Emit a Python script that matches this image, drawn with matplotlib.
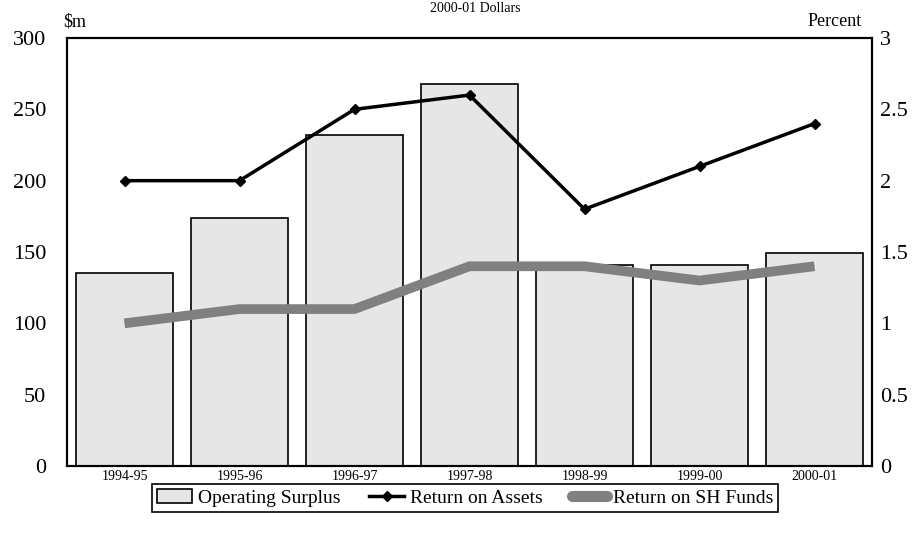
import numpy as np
import matplotlib
matplotlib.use("Agg")
import matplotlib.pyplot as plt
from matplotlib.lines import Line2D
from matplotlib.patches import Patch

# data
years = ['1994-95', '1995-96', '1996-97', '1997-98', '1998-99', '1999-00', '2000-01']
operating_surplus = [135, 174, 232, 268, 141, 141, 149]
return_on_assets = [2.0, 2.0, 2.5, 2.6, 1.8, 2.1, 2.4]
return_on_sh_funds = [1.0, 1.1, 1.1, 1.4, 1.4, 1.3, 1.4]

plt.rcParams['font.family'] = ['Liberation Serif', 'DejaVu Serif']

fig = plt.figure(figsize=(9.22, 5.36), dpi=100)
ax = fig.add_axes([67 / 922, 1 - 466 / 536, 805 / 922, 428 / 536])
ax2 = ax.twinx()

x = np.arange(len(years))
ax.bar(x, operating_surplus, width=0.85, color='#e6e6e6', edgecolor='black', linewidth=1.2, zorder=2)
ax.set_xlim(-0.5, len(years) - 0.5)
ax.set_ylim(0, 300)
ax.set_yticks(np.arange(0, 301, 50))
ax.set_xticks(x)
ax.set_xticklabels(years, fontsize=10)
ax.tick_params(axis='both', length=0)
ax.tick_params(axis='y', labelsize=16, pad=15)
ax.tick_params(axis='x', pad=3)

ax2.plot(x, return_on_sh_funds, color='#808080', linewidth=7, solid_capstyle='butt', zorder=3)
ax2.plot(x, return_on_assets, color='black', linewidth=2.5, marker='D', markersize=5, zorder=4)
ax2.set_ylim(0, 3)
ax2.set_yticks([0, 0.5, 1, 1.5, 2, 2.5, 3])
ax2.set_yticklabels(['0', '0.5', '1', '1.5', '2', '2.5', '3'])
ax2.tick_params(axis='y', length=0, labelsize=16, pad=6)

for a in (ax, ax2):
    for s in a.spines.values():
        s.set_linewidth(1.5)
        s.set_color('black')

fig.text(75 / 922, 1 - 22 / 536, '$m', fontsize=13, ha='center', va='center')
fig.text(862 / 922, 1 - 22 / 536, 'Percent', fontsize=13, ha='right', va='center')
fig.text(475 / 922, 1 - 9 / 536, '2000-01 Dollars', fontsize=10, ha='center', va='center')

handles = [
    Patch(facecolor='#e6e6e6', edgecolor='black', linewidth=1.2),
    Line2D([0], [0], color='black', linewidth=2.5, marker='D', markersize=5),
    Line2D([0], [0], color='#808080', linewidth=8, solid_capstyle='round'),
]
labels = ['Operating Surplus', 'Return on Assets', 'Return on SH Funds']
leg = fig.legend(handles, labels, loc='center', bbox_to_anchor=(465 / 922, 1 - 498 / 536),
                 ncol=3, fontsize=14, frameon=True, fancybox=False, framealpha=1,
                 edgecolor='black', handlelength=1.8, handletextpad=0.3, columnspacing=1.5,
                 borderpad=0.25)
leg.get_frame().set_linewidth(1.2)

fig.savefig('out.png', dpi=100)
